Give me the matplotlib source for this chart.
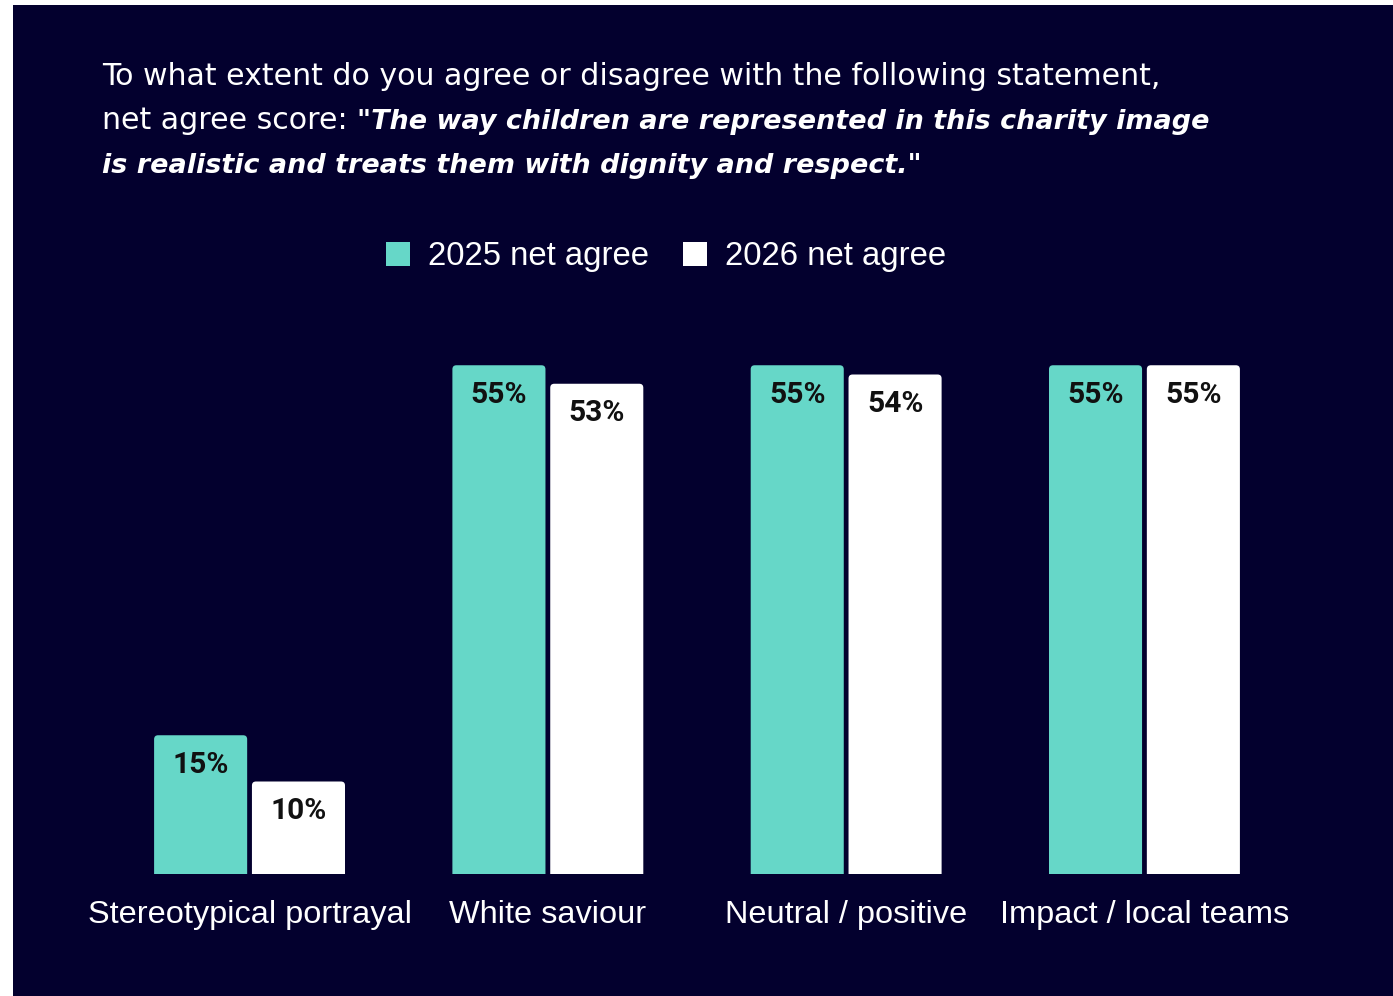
import matplotlib
matplotlib.use("Agg")
import matplotlib.pyplot as plt
from matplotlib.patches import Rectangle, Patch, FancyBboxPatch
import numpy as np

categories = ["Stereotypical portrayal", "White saviour", "Neutral / positive", "Impact / local teams"]
net_2025 = [15, 55, 55, 55]
net_2026 = [10, 53, 54, 55]
series_names = ["2025 net agree", "2026 net agree"]

NAVY = "#03002e"
TEAL = "#66d7c8"
WHITE = "#ffffff"

W, H = 1393, 996
fig = plt.figure(figsize=(W / 100, H / 100), dpi=100, facecolor="white")
fig.patches.append(Rectangle((13 / W, 0), 1 - 13 / W, 1 - 5 / H, transform=fig.transFigure,
                             facecolor=NAVY, edgecolor="none", zorder=-10))

# axes placed in pixel terms
left, bottom = 100.4, 122
width, height = 4 * 298.3, 555
ax = fig.add_axes([left / W, bottom / H, width / W, height / H])
ax.set_facecolor("none")
ax.set_xlim(-0.5, 3.5)
ax.set_ylim(0, 60)
for s in ax.spines.values():
    s.set_visible(False)
ax.set_yticks([])

x = np.arange(len(categories))
bw = 0.312
off = 0.164
b1 = ax.bar(x - off, net_2025, bw, color=TEAL, linewidth=0)
b2 = ax.bar(x + off, net_2026, bw, color=WHITE, linewidth=0)

# give the bars softly rounded top corners (bottom corners are clipped at the axis)
px_x = 4.0 / width * 4.0           # 4 px in x data units
aspect = (60 / height) / (4.0 / width)
for bars in (b1, b2):
    for rect in bars:
        rx, rw, rh = rect.get_x(), rect.get_width(), rect.get_height()
        fb = FancyBboxPatch((rx, -2), rw, rh + 2,
                            boxstyle=f"round,pad=0,rounding_size={px_x}",
                            mutation_aspect=aspect, facecolor=rect.get_facecolor(),
                            edgecolor="none", clip_on=True)
        ax.add_patch(fb)
        rect.set_visible(False)

for bars, vals in ((b1, net_2025), (b2, net_2026)):
    for rect, v in zip(bars, vals):
        ax.annotate(f"{v}%", (rect.get_x() + rect.get_width() / 2, v),
                    xytext=(0, -11), textcoords="offset points",
                    ha="center", va="top", fontsize=21.5, fontweight="bold",
                    family="Roboto", color="#111111")

ax.set_xticks(x)
ax.set_xticklabels(categories, fontsize=23.4, family="Liberation Sans", color="white")
ax.tick_params(axis="x", length=0, pad=19)

handles = [Patch(facecolor=TEAL, edgecolor="none"), Patch(facecolor=WHITE, edgecolor="none")]
leg = fig.legend(handles, series_names, loc="center", bbox_to_anchor=(666 / W, 1 - 257 / H),
                 ncol=2, frameon=False, handlelength=0.72, handleheight=0.72,
                 handletextpad=0.54, columnspacing=1.05,
                 prop={"family": "Liberation Sans", "size": 23.7})
for t in leg.get_texts():
    t.set_color("white")

# title, with a mixed regular / bold-italic second line
renderer = fig.canvas.get_renderer()
x0 = 102 / W
line1 = "To what extent do you agree or disagree with the following statement,"
line2a = "net agree score:"
line2b = "\"The way children are represented in this charity image"
line3 = "is realistic and treats them with dignity and respect.\""
plain = dict(family="DejaVu Sans")
emph = dict(family="DejaVu Sans", fontweight="bold", style="italic")


def put(xf, yf, s, size, **kw):
    t = fig.text(xf, yf, s, fontsize=size, color="white", va="baseline", **kw)
    return t, t.get_window_extent(renderer)


def fitted(s, target_px, **kw):
    t, bb = put(0, 0, s, 20, **kw)
    t.remove()
    return 20 * target_px / bb.width


reg_size = fitted(line1, 1058, **plain)
emp_size = fitted(line3, 818, **emph)

put(x0, 1 - 85 / H, line1, reg_size, **plain)
_, bb = put(x0, 1 - 129 / H, line2a, reg_size, **plain)
put(bb.x1 / W + 9 / W, 1 - 129 / H, line2b, emp_size, **emph)
put(x0, 1 - 173 / H, line3, emp_size, **emph)

fig.savefig("out.png", dpi=100, facecolor=fig.get_facecolor())
